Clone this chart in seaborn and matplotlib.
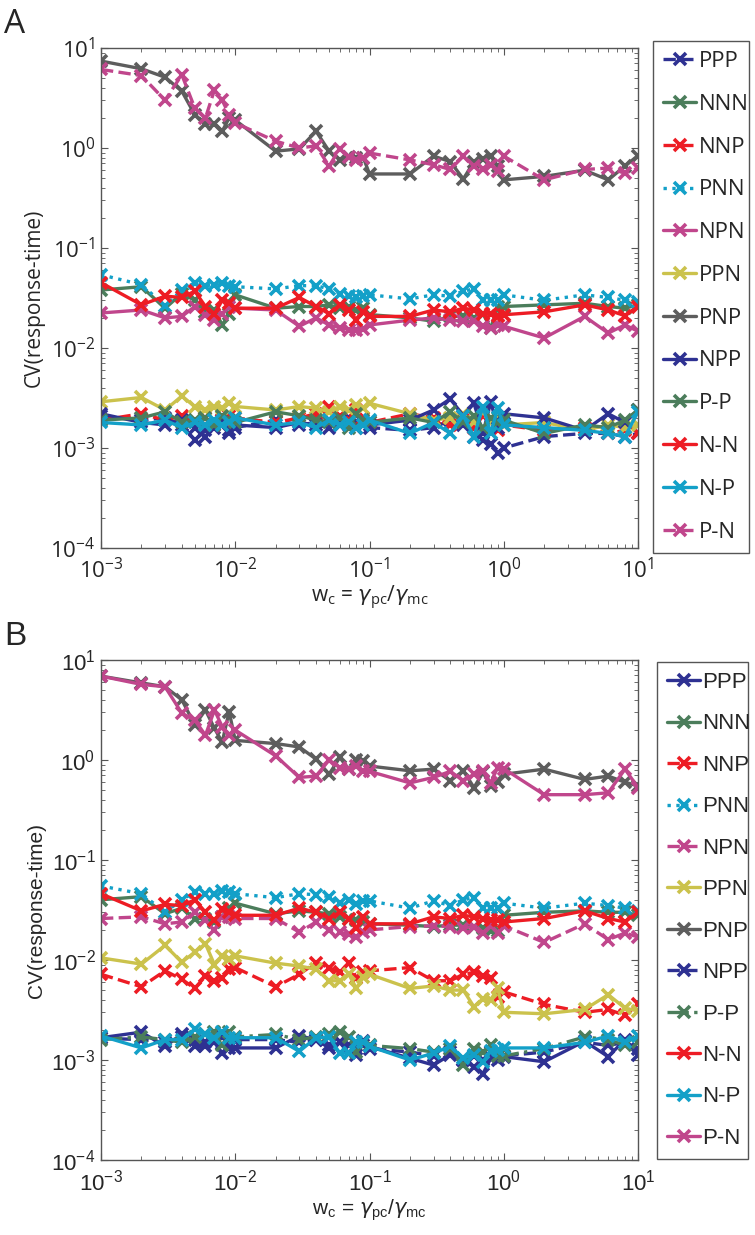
import matplotlib
matplotlib.use("Agg")
import matplotlib.pyplot as plt
import seaborn as sns
import numpy as np
from matplotlib.ticker import LogLocator, NullFormatter

# x grid (w_c values)
wc = [0.001, 0.002, 0.003, 0.004, 0.005, 0.006, 0.007, 0.008, 0.009,
      0.01, 0.02, 0.03, 0.04, 0.05, 0.06, 0.07, 0.08, 0.09,
      0.1, 0.2, 0.3, 0.4, 0.5, 0.6, 0.7, 0.8, 0.9,
      1, 2, 4, 6, 8, 10]

labels = ["PPP", "NNN", "NNP", "PNN", "NPN", "PPN", "PNP", "NPP", "P-P", "N-N", "N-P", "P-N"]

# ---- panel A ----
a_PPP = [0.0021, 0.0019, 0.0020, 0.0017, 0.0012, 0.0015, 0.0016, 0.0019, 0.0014, 0.0016,
         0.0019, 0.0017, 0.0018, 0.0019, 0.0017, 0.0020, 0.0018, 0.0017, 0.0016,
         0.0015, 0.0016, 0.0019, 0.0017, 0.0013, 0.0012, 0.0011, 0.0009, 0.0010,
         0.0013, 0.0014, 0.0014, 0.0013, 0.0014]
a_NNN = [0.038, 0.041, 0.025, 0.035, 0.030, 0.023, 0.024, 0.017, 0.022, 0.034,
         0.025, 0.026, 0.026, 0.027, 0.025, 0.026, 0.024, 0.025,
         0.0216, 0.020, 0.0185, 0.0207, 0.0207, 0.020, 0.022, 0.0158, 0.026, 0.026,
         0.027, 0.028, 0.026, 0.025, 0.027]
a_NNP = [0.0019, 0.0022, 0.0019, 0.0021, 0.0018, 0.0020, 0.0017, 0.0019, 0.0021, 0.0020,
         0.0018, 0.0020, 0.0022, 0.0026, 0.0021, 0.0019, 0.0024, 0.0020, 0.0018,
         0.0022, 0.0020, 0.0017, 0.0019, 0.0016, 0.0021, 0.0018, 0.0015, 0.0017,
         0.0015, 0.0016, 0.0014, 0.0015, 0.0014]
a_PNN = [0.054, 0.043, 0.0265, 0.038, 0.045, 0.042, 0.043, 0.045, 0.042, 0.041,
         0.039, 0.042, 0.042, 0.039, 0.035, 0.033, 0.032, 0.033,
         0.034, 0.031, 0.034, 0.033, 0.037, 0.039, 0.030, 0.030, 0.030, 0.034,
         0.030, 0.034, 0.032, 0.030, 0.029]
a_NPN = [0.0224, 0.024, 0.020, 0.0207, 0.026, 0.0216, 0.019, 0.022, 0.026, 0.025,
         0.024, 0.0165, 0.020, 0.017, 0.016, 0.0153, 0.015, 0.0155,
         0.017, 0.019, 0.020, 0.019, 0.0185, 0.0185, 0.0165, 0.016, 0.017, 0.0165,
         0.0126, 0.0207, 0.0141, 0.017, 0.0147]
a_PPN = [0.0029, 0.0032, 0.0024, 0.0033, 0.0026, 0.0024, 0.0026, 0.0025, 0.0028, 0.0026,
         0.0024, 0.0026, 0.0025, 0.0023, 0.0026, 0.0024, 0.0027, 0.0025, 0.0028,
         0.0022, 0.0019, 0.0020, 0.0022, 0.0018, 0.0023, 0.0018, 0.0020, 0.0017,
         0.0018, 0.0015, 0.0017, 0.0016, 0.0017]
a_PNP = [7.4, 6.2, 5.1, 3.7, 2.15, 1.75, 1.75, 1.47, 2.0, 1.9,
         0.93, 0.98, 1.47, 0.93, 0.76, 0.82, 0.80, 0.80,
         0.55, 0.55, 0.83, 0.73, 0.49, 0.73, 0.78, 0.83, 0.66, 0.48,
         0.52, 0.60, 0.48, 0.66, 0.84]
a_NPP = [0.0022, 0.0018, 0.0017, 0.0019, 0.0016, 0.0013, 0.0017, 0.0018, 0.0015, 0.0017,
         0.0016, 0.0018, 0.0017, 0.0016, 0.0019, 0.0017, 0.0016, 0.0018, 0.0017,
         0.0019, 0.0024, 0.0031, 0.0021, 0.0028, 0.0014, 0.0029, 0.0016, 0.0022,
         0.0020, 0.0015, 0.0022, 0.0018, 0.0024]
a_PP = [0.0019, 0.0020, 0.0023, 0.0018, 0.0019, 0.0020, 0.0017, 0.0021, 0.0019, 0.0018,
        0.0023, 0.0021, 0.0019, 0.0018, 0.0020, 0.0016, 0.0022, 0.0019, 0.0018,
        0.0020, 0.0018, 0.0023, 0.0018, 0.0021, 0.0016, 0.0020, 0.0018, 0.0019,
        0.0014, 0.0017, 0.0016, 0.0019, 0.0024]
a_NN = [0.045, 0.027, 0.033, 0.032, 0.037, 0.026, 0.022, 0.030, 0.028, 0.025,
        0.025, 0.032, 0.026, 0.022, 0.027, 0.024, 0.019, 0.023,
        0.0207, 0.0207, 0.024, 0.023, 0.025, 0.024, 0.022, 0.022, 0.021, 0.0215,
        0.023, 0.027, 0.024, 0.021, 0.026]
a_NP = [0.0018, 0.0017, 0.0019, 0.0016, 0.0018, 0.0017, 0.0019, 0.0017, 0.0018, 0.0020,
        0.0017, 0.0018, 0.0016, 0.0019, 0.0017, 0.0018, 0.0016, 0.0017, 0.0019,
        0.0014, 0.0018, 0.0014, 0.0021, 0.0013, 0.0026, 0.0014, 0.0025, 0.0017,
        0.0016, 0.0015, 0.0014, 0.0013, 0.0023]
a_PN = [6.1, 5.3, 3.0, 5.4, 2.5, 2.0, 3.8, 3.0, 2.15, 1.78,
        1.17, 1.0, 1.05, 0.66, 0.98, 0.82, 0.76, 0.80,
        0.89, 0.76, 0.68, 0.61, 0.83, 0.66, 0.61, 0.68, 0.59, 0.83,
        0.48, 0.61, 0.63, 0.56, 0.63]

# ---- panel B ----
b_PPP = [0.00167, 0.0019, 0.00137, 0.0018, 0.00137, 0.00137, 0.0015, 0.00117, 0.00132, 0.00132,
         0.00132, 0.00174, 0.0016, 0.00132, 0.0015, 0.00117, 0.00113, 0.00155,
         0.00137, 0.00104, 0.00089, 0.00113, 0.0010, 0.00085, 0.00073, 0.00104, 0.0010,
         0.00108, 0.00096, 0.00154, 0.00108, 0.0016, 0.00113]
b_NNN = [0.040, 0.043, 0.029, 0.033, 0.026, 0.026, 0.024, 0.027, 0.033, 0.037,
         0.029, 0.031, 0.030, 0.029, 0.027, 0.026, 0.025, 0.024,
         0.023, 0.0223, 0.0216, 0.0223, 0.0223, 0.0216, 0.021, 0.0193, 0.0193, 0.028,
         0.030, 0.031, 0.030, 0.030, 0.028]
b_NNP = [0.0072, 0.0054, 0.0078, 0.0064, 0.0052, 0.0069, 0.0062, 0.0066, 0.0081, 0.0084,
         0.0054, 0.0072, 0.0094, 0.0084, 0.0075, 0.0094, 0.0066, 0.0075,
         0.0078, 0.0084, 0.0062, 0.0062, 0.0072, 0.0075, 0.0069, 0.0066, 0.0043,
         0.0048, 0.0036, 0.0030, 0.0032, 0.0028, 0.0036]
b_PNN = [0.055, 0.046, 0.030, 0.040, 0.048, 0.046, 0.046, 0.049, 0.048, 0.046,
         0.042, 0.046, 0.045, 0.043, 0.037, 0.040, 0.036, 0.039,
         0.039, 0.033, 0.039, 0.035, 0.040, 0.042, 0.033, 0.033, 0.033, 0.037,
         0.033, 0.037, 0.035, 0.033, 0.031]
b_NPN = [0.026, 0.027, 0.023, 0.024, 0.030, 0.025, 0.020, 0.027, 0.027, 0.026,
         0.026, 0.019, 0.024, 0.020, 0.019, 0.018, 0.017, 0.019,
         0.020, 0.0216, 0.022, 0.0216, 0.021, 0.0216, 0.0186, 0.022, 0.0186, 0.022,
         0.015, 0.023, 0.016, 0.0186, 0.017]
b_PPN = [0.0105, 0.0091, 0.014, 0.0095, 0.012, 0.0145, 0.009, 0.011, 0.0103, 0.011,
         0.0093, 0.0087, 0.0081, 0.0062, 0.0062, 0.0072, 0.0052, 0.0067,
         0.0072, 0.0052, 0.0055, 0.0050, 0.0050, 0.0034, 0.0041, 0.0040, 0.0052,
         0.0030, 0.0029, 0.0032, 0.0045, 0.0033, 0.0031]
b_PNP = [6.9, 5.9, 5.4, 4.0, 2.24, 3.16, 2.07, 1.51, 3.05, 1.57,
         1.46, 1.35, 1.02, 0.72, 1.06, 0.81, 1.0, 0.97,
         0.87, 0.78, 0.81, 0.62, 0.78, 0.53, 0.75, 0.55, 0.60, 0.72,
         0.81, 0.64, 0.69, 0.60, 0.55]
b_NPP = [0.00165, 0.0016, 0.0015, 0.0017, 0.0016, 0.0015, 0.0016, 0.0017, 0.0015, 0.0016,
         0.0016, 0.0015, 0.0016, 0.0014, 0.0015, 0.0014, 0.0013, 0.0014,
         0.0013, 0.0012, 0.0011, 0.0012, 0.0010, 0.0011, 0.0010, 0.0012, 0.0011,
         0.0011, 0.0012, 0.0015, 0.0014, 0.0015, 0.0013]
b_PP = [0.0016, 0.0017, 0.0016, 0.0015, 0.0017, 0.0018, 0.0019, 0.0014, 0.0019, 0.0017,
        0.0018, 0.0016, 0.0017, 0.0018, 0.0019, 0.0017, 0.0012, 0.0015,
        0.0014, 0.0013, 0.0012, 0.0013, 0.0009, 0.0013, 0.0012, 0.0014, 0.0011,
        0.0011, 0.0013, 0.0017, 0.0016, 0.0014, 0.0015]
b_NN = [0.046, 0.031, 0.036, 0.035, 0.040, 0.030, 0.025, 0.032, 0.030, 0.028,
        0.028, 0.033, 0.030, 0.026, 0.030, 0.026, 0.021, 0.027,
        0.023, 0.023, 0.027, 0.026, 0.028, 0.027, 0.026, 0.025, 0.025, 0.024,
        0.026, 0.031, 0.026, 0.024, 0.030]
b_NP = [0.00174, 0.00132, 0.0016, 0.0016, 0.00203, 0.0018, 0.00167, 0.0019, 0.00167, 0.00167,
        0.00167, 0.00122, 0.00167, 0.0017, 0.00117, 0.00117, 0.0015, 0.0015,
        0.00137, 0.0010, 0.00117, 0.00137, 0.00104, 0.00113, 0.00096, 0.00122, 0.00125,
        0.00132, 0.00132, 0.0015, 0.00174, 0.0015, 0.00174]
b_PN = [6.9, 5.7, 5.4, 2.94, 2.5, 1.77, 3.16, 2.15, 1.77, 1.99,
        1.1, 0.67, 0.69, 1.0, 0.84, 0.81, 0.87, 0.77,
        0.77, 0.59, 0.67, 0.77, 0.62, 0.72, 0.77, 0.59, 0.84, 0.82,
        0.45, 0.45, 0.47, 0.81, 0.53]

navy = "#2e3192"
green = "#4b7d5b"
red = "#ed1c24"
cyan = "#13a0c8"
pink = "#c0468c"
yellow = "#cbc24c"
gray = "#5d5d5d"

colors = [navy, green, red, cyan, pink, yellow, gray, navy, green, red, cyan, pink]
styles_a = ["--", "-", "--", ":", "-", "-", "-", "-", "-", "-", "-", "--"]
styles_b = ["-", "-", "--", ":", "--", "-", "-", "--", "-.", "-", "-", "-"]

data_a = [a_PPP, a_NNN, a_NNP, a_PNN, a_NPN, a_PPN, a_PNP, a_NPP, a_PP, a_NN, a_NP, a_PN]
data_b = [b_PPP, b_NNN, b_NNP, b_PNN, b_NPN, b_PPN, b_PNP, b_NPP, b_PP, b_NN, b_NP, b_PN]

sns.set_style("ticks")
plt.rcParams['font.family'] = ['Open Sans', 'DejaVu Sans']
plt.rcParams['mathtext.fontset'] = 'dejavusans'

W, H = 755.0, 1235.0
fig = plt.figure(figsize=(W / 100, H / 100), dpi=100)


def draw_panel(rect, data, styles, letter, leg_box, font, spacing):
    ax = fig.add_axes(rect)
    for vals, lab, col, ls in zip(data, labels, colors, styles):
        sns.lineplot(x=wc, y=vals, ax=ax, color=col, linestyle=ls, linewidth=2.4,
                     marker="x", markersize=9, markeredgewidth=2.6,
                     markeredgecolor=col, label=lab)
    ax.set_xscale("log")
    ax.set_yscale("log")
    ax.set_xlim(1e-3, 10)
    ax.set_ylim(1e-4, 10)
    ax.xaxis.set_major_locator(LogLocator(base=10, numticks=10))
    ax.yaxis.set_major_locator(LogLocator(base=10, numticks=10))
    ax.xaxis.set_minor_locator(LogLocator(base=10, subs=np.arange(2, 10), numticks=20))
    ax.yaxis.set_minor_locator(LogLocator(base=10, subs=np.arange(2, 10), numticks=20))
    ax.xaxis.set_minor_formatter(NullFormatter())
    ax.yaxis.set_minor_formatter(NullFormatter())
    ax.tick_params(which="both", direction="in", top=True, right=True,
                   labelsize=16, color="#555555")
    ax.tick_params(axis="x", which="major", pad=7)
    ax.tick_params(axis="y", which="major", pad=4)
    ax.tick_params(which="major", length=5, width=0.8)
    ax.tick_params(which="minor", length=3, width=0.6)
    for s in ax.spines.values():
        s.set_color("#555555")
        s.set_linewidth(1.0)
    for t in ax.get_xticklabels() + ax.get_yticklabels():
        t.set_family(font)
    ax.set_ylabel("CV(response-time)", fontsize=15, family=font, labelpad=4)
    ax.set_xlabel(r"w$_\mathregular{c}$ = $\gamma_\mathregular{pc}$/$\gamma_\mathregular{mc}$",
                  fontsize=15, family=font, labelpad=1)
    h, l = ax.get_legend_handles_labels()
    x0, top, w, hgt = leg_box
    ax.legend(h, l, loc="upper left",
              bbox_to_anchor=(x0 / W, 1 - (top + hgt) / H, w / W, hgt / H),
              bbox_transform=fig.transFigure, mode="expand",
              fancybox=False, edgecolor="#555555", framealpha=1,
              handlelength=1.5, handletextpad=0.1, borderpad=0.45, borderaxespad=0,
              labelspacing=spacing, prop={"family": font, "size": 16})
    fig.text(0.005, rect[1] + rect[3] + 0.012, letter, fontsize=24, family=font)
    return ax


# panel A
draw_panel([101 / W, 1 - 548 / H, 537 / W, 500 / H], data_a, styles_a, "A",
           (653, 41, 96, 537), ['Open Sans', 'DejaVu Sans'], 0.98)
# panel B
draw_panel([101 / W, 1 - 1160 / H, 537 / W, 500 / H], data_b, styles_b, "B",
           (657, 662, 91, 483), ['Liberation Sans', 'DejaVu Sans'], 0.92)

fig.savefig("out.png", dpi=100)
